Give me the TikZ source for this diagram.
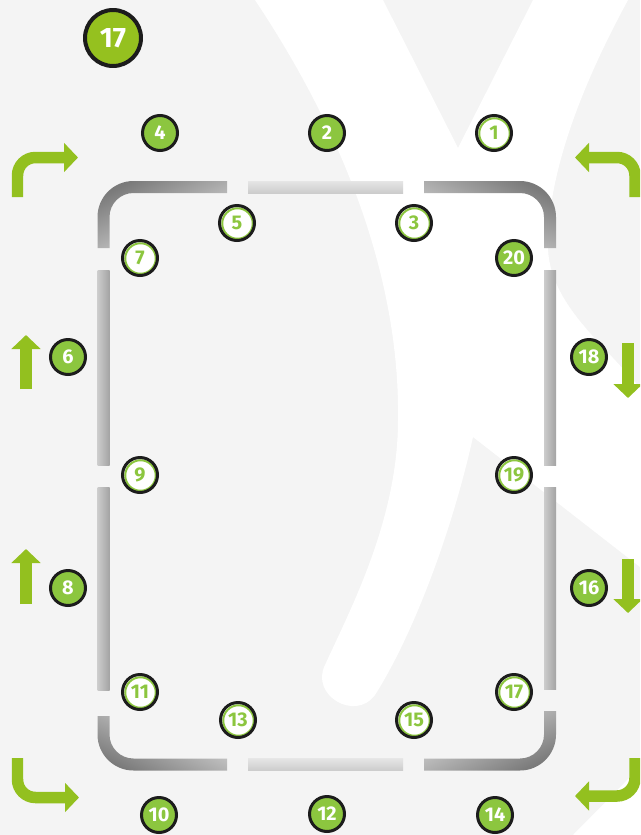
\documentclass[tikz,border=0pt]{standalone}
\usepackage{fontspec}
\setmainfont{Fira Sans}
\usepackage{xcolor}
\usepackage{tikz}
\usetikzlibrary{arrows.meta, shadings}

\definecolor{bggray}{HTML}{F4F4F4}
\definecolor{dotgreen}{HTML}{8CC63F}
\definecolor{badgegreen}{HTML}{95C11F}
\definecolor{arrowgreen}{HTML}{93C01F}
\definecolor{rim}{HTML}{1C1C1C}

\begin{document}
\begin{tikzpicture}[x=0.02cm, y=-0.02cm,
  filled/.style={circle, draw=rim, line width=0.06cm, fill=dotgreen, text=white,
    minimum size=0.70cm, inner sep=0pt, font=\bfseries\fontsize{11.3}{13}\selectfont},
  hollow/.style={circle, draw=rim, line width=0.06cm, fill=white, text=dotgreen,
    minimum size=0.70cm, inner sep=0pt, font=\bfseries\fontsize{11.3}{13}\selectfont,
    path picture={\draw[dotgreen, line width=0.04cm]
      ([shift={(0.01cm,-0.01cm)}]path picture bounding box.center) circle[radius=0.305cm];}},
  badge/.style={circle, draw=rim, line width=0.08cm, fill=badgegreen, text=white,
    minimum size=1.12cm, inner sep=0pt, font=\bfseries\fontsize{16}{18}\selectfont},
  arr/.style={draw=arrowgreen, line width=0.23cm, -{Triangle[length=0.28cm, width=0.57cm]}},
  turnarrow/.style={arr, rounded corners=0.36cm}
]
\useasboundingbox (0,0) rectangle (640,835);
\clip (0,0) rectangle (640,835);

% --- background with the large white letter ---
\fill[bggray] (0,0) rectangle (640,835);
\fill[white] (255,0) .. controls (345,135) and (400,280) .. (398,420)
  .. controls (398,520) and (350,610) .. (325,665)
  .. controls (310,695) and (355,722) .. (375,695)
  .. controls (410,640) and (450,540) .. (473,437)
  -- (640,567) -- (640,388)
  .. controls (600,340) and (545,300) .. (548,240)
  .. controls (550,160) and (590,70) .. (628,0)
  -- (533,0) -- (458,148) -- (383,0) -- cycle;
\fill[white] (573,835) -- (640,767) -- (640,835) -- cycle;

% --- frame: corners ---
\shade[top color=black!52, bottom color=black!12, shading angle=26]
  (97.5,248) -- (97.5,217) arc[start angle=180, end angle=270, radius=36]
  -- (227,181) -- (227,193) -- (133.5,193) arc[start angle=270, end angle=180, radius=24]
  -- (109.5,248) -- cycle;
\shade[top color=black!52, bottom color=black!12, shading angle=-26]
  (424,181) -- (520,181) arc[start angle=270, end angle=360, radius=36]
  -- (556,248) -- (544,248) -- (544,217) arc[start angle=0, end angle=-90, radius=24]
  -- (424,193) -- cycle;
\shade[top color=black!52, bottom color=black!12, shading angle=206]
  (556,711) -- (556,734.5) arc[start angle=0, end angle=90, radius=36]
  -- (424,770.5) -- (424,758.5) -- (520,758.5) arc[start angle=90, end angle=0, radius=24]
  -- (544,711) -- cycle;
\shade[top color=black!52, bottom color=black!12, shading angle=154]
  (227,770.5) -- (133.5,770.5) arc[start angle=90, end angle=180, radius=36]
  -- (97.5,716) -- (109.5,716) -- (109.5,734.5) arc[start angle=180, end angle=90, radius=24]
  -- (227,758.5) -- cycle;

% --- frame: straight bars ---
\shade[top color=black!10, bottom color=black!20] (248,181) rectangle (403,193);
\shade[top color=black!10, bottom color=black!20] (248,758.5) rectangle (403,770.5);
\shade[left color=black!20, right color=black!36] (97.5,270) rectangle (109.5,465);
\shade[left color=black!20, right color=black!36] (97.5,487) rectangle (109.5,690);
\shade[left color=black!20, right color=black!36] (544,270) rectangle (556,465);
\shade[left color=black!20, right color=black!36] (544,487) rectangle (556,689);

% --- arrows ---
\draw[turnarrow] (17.5,197) -- (17.5,157.5) -- (78,157.5);
\draw[turnarrow] (635,197) -- (635,157.5) -- (575,157.5);
\draw[turnarrow] (17.5,758) -- (17.5,797.5) -- (79,797.5);
\draw[turnarrow] (635,758) -- (635,796) -- (575,796);
\draw[arr] (26,389) -- (26,335);
\draw[arr] (26,604) -- (26,549);
\draw[arr] (628,343) -- (628,398);
\draw[arr] (628,559) -- (628,613);

% --- numbered points ---
\node[badge] (step) at (113,38) {17};

\node[hollow] (n1)  at (494,133) {1};
\node[filled] (n2)  at (327,133) {2};
\node[hollow] (n3)  at (414,223) {3};
\node[filled] (n4)  at (160,133) {4};
\node[hollow] (n5)  at (237,223) {5};
\node[filled] (n6)  at (68,357)  {6};
\node[hollow] (n7)  at (140,258) {7};
\node[filled] (n8)  at (68,588)  {8};
\node[hollow] (n9)  at (140,475) {9};
\node[filled] (n10) at (159,815) {10};
\node[hollow] (n11) at (140,692) {11};
\node[filled] (n12) at (327,814) {12};
\node[hollow] (n13) at (238,720) {13};
\node[filled] (n14) at (495,815) {14};
\node[hollow] (n15) at (414,720) {15};
\node[filled] (n16) at (589,588) {16};
\node[hollow] (n17) at (514,692) {17};
\node[filled] (n18) at (589,357) {18};
\node[hollow] (n19) at (514,475) {19};
\node[filled] (n20) at (514,258) {20};
\end{tikzpicture}
\end{document}
